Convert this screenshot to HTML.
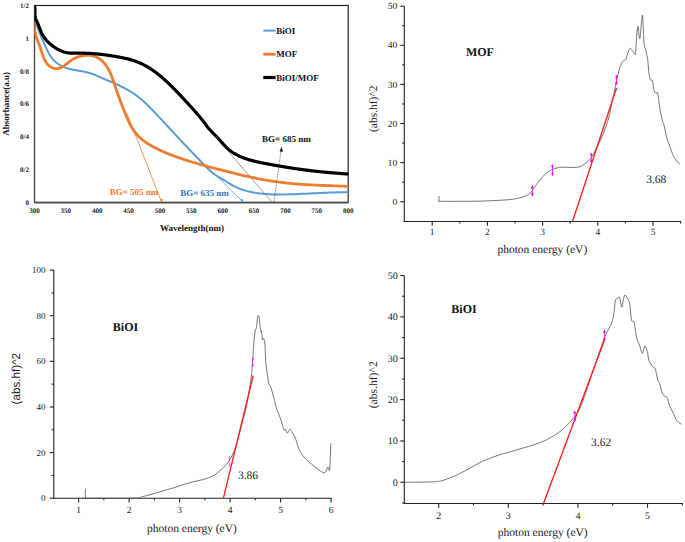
<!DOCTYPE html>
<html><head><meta charset="utf-8"><title>Absorbance and Tauc plots</title>
<style>
html,body{margin:0;padding:0;background:#fff;}
body{width:685px;height:542px;overflow:hidden;font-family:"Liberation Serif", serif;}
svg{display:block;text-rendering:geometricPrecision;}
</style></head>
<body>
<svg width="685" height="542" viewBox="0 0 685 542">
<rect width="685" height="542" fill="#fff"/>
<rect x="34.5" y="5.5" width="313.7" height="196.8" fill="none" stroke="#222" stroke-width="1.2"/>
<line x1="34.5" y1="202.9" x2="348.2" y2="202.9" stroke="#555" stroke-width="1.4"/>
<line x1="34.5" y1="5.5" x2="34.5" y2="202.3" stroke="#444" stroke-width="1.1"/>
<line x1="127" y1="113.5" x2="161.6" y2="202" stroke="#ED7D31" stroke-width="0.8"/>
<line x1="190" y1="150" x2="243.2" y2="202" stroke="#5B9BD5" stroke-width="0.8"/>
<line x1="192" y1="109" x2="271.8" y2="202" stroke="#8a8a8a" stroke-width="0.8"/>
<path d="M161.6 202.3 l-1.6 -3.2 l3 0.2z" fill="#ED7D31"/>
<path d="M243.2 202.3 l-2.7 -2.2 l2.1 -1.5z" fill="#5B9BD5"/>
<defs><clipPath id="c1"><rect x="34.5" y="5" width="314" height="198"/></clipPath></defs><g clip-path="url(#c1)">
<path d="M34.85 8.92 L34.82 9.97 L34.82 11 L34.84 12.03 L34.88 13.05 L34.94 14.06 L35.02 15.06 L35.12 16.06 L35.24 17.05 L35.38 18.03 L35.53 19 L35.71 19.97 L35.9 20.93 L36.1 21.89 L36.32 22.84 L36.56 23.78 L36.81 24.72 L37.07 25.66 L37.35 26.59 L37.64 27.52 L37.94 28.45 L38.26 29.37 L38.58 30.29 L38.92 31.21 L39.26 32.12 L39.62 33.04 L39.98 33.95 L40.35 34.86 L40.72 35.77 L41.11 36.68 L41.5 37.59 L41.89 38.51 L42.3 39.42 L42.7 40.33 L43.11 41.25 L43.52 42.16 L43.94 43.08 L44.35 44 L44.77 44.92 L45.19 45.85 L45.62 46.78 L46.04 47.7 L46.48 48.63 L46.91 49.55 L47.36 50.46 L47.82 51.37 L48.29 52.26 L48.77 53.15 L49.27 54.02 L49.78 54.88 L50.3 55.72 L50.85 56.55 L51.41 57.35 L52 58.13 L52.61 58.89 L53.24 59.63 L53.9 60.34 L54.58 61.02 L55.29 61.68 L56.02 62.3 L56.78 62.9 L57.56 63.48 L58.36 64.02 L59.17 64.55 L60.01 65.04 L60.86 65.52 L61.73 65.96 L62.61 66.39 L63.51 66.79 L64.42 67.17 L65.34 67.53 L66.27 67.86 L67.21 68.17 L68.15 68.46 L69.1 68.73 L70.06 68.98 L71.03 69.22 L71.99 69.44 L72.97 69.65 L73.94 69.85 L74.92 70.04 L75.9 70.22 L76.89 70.39 L77.87 70.57 L78.86 70.74 L79.84 70.91 L80.82 71.08 L81.81 71.25 L82.79 71.44 L83.77 71.62 L84.74 71.82 L85.71 72.03 L86.68 72.25 L87.64 72.49 L88.59 72.74 L89.54 73.01 L90.48 73.31 L91.42 73.62 L92.35 73.94 L93.27 74.29 L94.19 74.64 L95.11 75.01 L96.02 75.39 L96.93 75.78 L97.84 76.18 L98.74 76.58 L99.65 76.98 L100.55 77.38 L101.46 77.79 L102.36 78.19 L103.27 78.59 L104.18 78.98 L105.09 79.36 L106.01 79.75 L106.92 80.13 L107.84 80.5 L108.75 80.88 L109.67 81.26 L110.58 81.63 L111.5 82.02 L112.41 82.4 L113.33 82.79 L114.24 83.18 L115.15 83.58 L116.06 83.99 L116.96 84.4 L117.87 84.81 L118.77 85.24 L119.67 85.67 L120.56 86.1 L121.45 86.54 L122.34 86.99 L123.23 87.44 L124.11 87.9 L124.98 88.37 L125.86 88.85 L126.72 89.33 L127.59 89.82 L128.45 90.32 L129.3 90.82 L130.15 91.34 L130.99 91.86 L131.83 92.39 L132.66 92.92 L133.48 93.47 L134.3 94.02 L135.11 94.59 L135.92 95.16 L136.72 95.74 L137.51 96.33 L138.29 96.93 L139.07 97.54 L139.84 98.16 L140.6 98.78 L141.36 99.42 L142.11 100.06 L142.85 100.71 L143.59 101.37 L144.32 102.03 L145.05 102.7 L145.77 103.38 L146.49 104.06 L147.2 104.75 L147.91 105.44 L148.62 106.13 L149.32 106.83 L150.02 107.54 L150.72 108.25 L151.41 108.96 L152.1 109.67 L152.79 110.38 L153.48 111.1 L154.16 111.82 L154.85 112.54 L155.53 113.26 L156.21 113.98 L156.89 114.7 L157.57 115.43 L158.25 116.15 L158.93 116.87 L159.61 117.6 L160.28 118.32 L160.96 119.05 L161.64 119.77 L162.31 120.5 L162.98 121.22 L163.66 121.95 L164.33 122.68 L165.01 123.4 L165.68 124.13 L166.35 124.86 L167.02 125.59 L167.7 126.31 L168.37 127.04 L169.04 127.77 L169.71 128.5 L170.38 129.23 L171.05 129.95 L171.73 130.68 L172.4 131.41 L173.07 132.14 L173.74 132.87 L174.41 133.59 L175.09 134.32 L175.76 135.05 L176.43 135.77 L177.11 136.5 L177.78 137.23 L178.45 137.95 L179.13 138.68 L179.8 139.4 L180.48 140.13 L181.16 140.85 L181.83 141.57 L182.51 142.3 L183.19 143.02 L183.87 143.74 L184.55 144.46 L185.23 145.18 L185.91 145.9 L186.6 146.62 L187.28 147.34 L187.96 148.06 L188.65 148.78 L189.33 149.5 L190.02 150.22 L190.7 150.93 L191.39 151.65 L192.08 152.37 L192.76 153.08 L193.45 153.8 L194.14 154.52 L194.83 155.23 L195.51 155.95 L196.2 156.66 L196.89 157.38 L197.58 158.1 L198.27 158.81 L198.95 159.53 L199.64 160.24 L200.33 160.96 L201.02 161.68 L201.7 162.39 L202.39 163.11 L203.08 163.83 L203.76 164.55 L204.45 165.26 L205.14 165.98 L205.83 166.69 L206.53 167.39 L207.23 168.09 L207.94 168.78 L208.65 169.46 L209.38 170.12 L210.11 170.78 L210.85 171.42 L211.61 172.05 L212.38 172.66 L213.16 173.26 L213.95 173.84 L214.75 174.41 L215.56 174.97 L216.38 175.52 L217.21 176.05 L218.05 176.58 L218.89 177.11 L219.73 177.63 L220.58 178.14 L221.43 178.66 L222.29 179.17 L223.14 179.68 L224 180.2 L224.85 180.72 L225.7 181.24 L226.55 181.77 L227.4 182.29 L228.25 182.82 L229.1 183.34 L229.95 183.85 L230.81 184.36 L231.67 184.86 L232.53 185.35 L233.4 185.82 L234.28 186.28 L235.16 186.72 L236.05 187.15 L236.95 187.56 L237.85 187.95 L238.76 188.33 L239.68 188.7 L240.6 189.05 L241.52 189.38 L242.45 189.71 L243.39 190.01 L244.33 190.31 L245.27 190.59 L246.22 190.86 L247.18 191.11 L248.13 191.36 L249.09 191.59 L250.06 191.81 L251.02 192.02 L251.99 192.22 L252.96 192.41 L253.94 192.59 L254.92 192.75 L255.89 192.91 L256.87 193.06 L257.86 193.2 L258.84 193.33 L259.82 193.45 L260.81 193.57 L261.79 193.67 L262.78 193.77 L263.77 193.86 L264.75 193.95 L265.74 194.02 L266.73 194.09 L267.72 194.15 L268.71 194.21 L269.7 194.26 L270.69 194.3 L271.68 194.34 L272.68 194.38 L273.67 194.4 L274.66 194.43 L275.65 194.44 L276.65 194.46 L277.64 194.46 L278.63 194.47 L279.63 194.47 L280.62 194.47 L281.61 194.46 L282.61 194.45 L283.6 194.43 L284.59 194.42 L285.59 194.4 L286.58 194.38 L287.57 194.35 L288.57 194.33 L289.56 194.3 L290.55 194.27 L291.55 194.24 L292.54 194.21 L293.53 194.17 L294.52 194.14 L295.51 194.1 L296.5 194.06 L297.49 194.03 L298.48 193.99 L299.47 193.95 L300.46 193.91 L301.45 193.86 L302.44 193.82 L303.43 193.78 L304.42 193.73 L305.41 193.69 L306.4 193.64 L307.39 193.6 L308.38 193.55 L309.37 193.51 L310.36 193.46 L311.35 193.41 L312.34 193.37 L313.33 193.32 L314.32 193.27 L315.3 193.23 L316.29 193.18 L317.28 193.13 L318.27 193.09 L319.26 193.04 L320.25 192.99 L321.24 192.95 L322.23 192.9 L323.22 192.86 L324.21 192.82 L325.19 192.77 L326.18 192.73 L327.17 192.69 L328.16 192.65 L329.15 192.61 L330.14 192.57 L331.13 192.53 L332.12 192.5 L333.12 192.46 L334.11 192.43 L335.1 192.39 L336.09 192.36 L337.08 192.33 L338.07 192.3 L339.06 192.28 L340.06 192.25 L341.05 192.23 L342.04 192.21 L343.03 192.18 L344.03 192.17 L345.02 192.15 L346.02 192.13 L347.01 192.12 L348.01 192.11" fill="none" stroke="#5B9BD5" stroke-width="2" stroke-linejoin="round" stroke-linecap="round"/>
<path d="M34.77 22.92 L34.67 24.07 L34.61 25.18 L34.58 26.27 L34.6 27.34 L34.66 28.39 L34.75 29.42 L34.87 30.43 L35.02 31.42 L35.2 32.4 L35.41 33.36 L35.64 34.32 L35.89 35.26 L36.16 36.2 L36.45 37.13 L36.76 38.06 L37.08 38.98 L37.41 39.91 L37.75 40.84 L38.1 41.77 L38.45 42.7 L38.8 43.65 L39.15 44.6 L39.51 45.56 L39.86 46.53 L40.2 47.52 L40.53 48.52 L40.87 49.53 L41.2 50.56 L41.53 51.58 L41.86 52.61 L42.2 53.63 L42.56 54.65 L42.92 55.66 L43.3 56.66 L43.7 57.65 L44.12 58.61 L44.56 59.55 L45.03 60.47 L45.53 61.35 L46.06 62.21 L46.63 63.02 L47.24 63.8 L47.88 64.54 L48.57 65.22 L49.31 65.86 L50.1 66.45 L50.93 66.97 L51.8 67.44 L52.7 67.83 L53.63 68.15 L54.57 68.39 L55.54 68.55 L56.51 68.61 L57.48 68.58 L58.45 68.45 L59.41 68.22 L60.35 67.89 L61.28 67.49 L62.2 67.02 L63.09 66.49 L63.96 65.93 L64.82 65.32 L65.66 64.69 L66.48 64.04 L67.3 63.38 L68.11 62.72 L68.93 62.06 L69.74 61.41 L70.56 60.79 L71.39 60.19 L72.23 59.63 L73.09 59.11 L73.97 58.64 L74.86 58.2 L75.78 57.79 L76.71 57.42 L77.67 57.07 L78.65 56.75 L79.64 56.46 L80.65 56.19 L81.68 55.96 L82.71 55.76 L83.75 55.6 L84.79 55.47 L85.84 55.37 L86.89 55.32 L87.93 55.3 L88.97 55.33 L90 55.4 L91.02 55.51 L92.02 55.67 L93.01 55.88 L93.99 56.14 L94.94 56.44 L95.87 56.8 L96.77 57.21 L97.65 57.67 L98.51 58.17 L99.34 58.71 L100.15 59.3 L100.94 59.92 L101.7 60.58 L102.44 61.27 L103.15 61.99 L103.85 62.74 L104.51 63.52 L105.16 64.32 L105.78 65.14 L106.37 65.98 L106.95 66.84 L107.5 67.71 L108.02 68.59 L108.53 69.48 L109.01 70.39 L109.48 71.3 L109.93 72.23 L110.36 73.16 L110.77 74.1 L111.17 75.05 L111.56 76 L111.94 76.96 L112.3 77.92 L112.66 78.89 L113.01 79.86 L113.35 80.83 L113.68 81.8 L114.01 82.78 L114.34 83.75 L114.66 84.73 L114.99 85.7 L115.31 86.67 L115.64 87.63 L115.96 88.6 L116.29 89.56 L116.62 90.52 L116.95 91.48 L117.29 92.43 L117.62 93.38 L117.96 94.33 L118.3 95.28 L118.64 96.23 L118.98 97.18 L119.32 98.13 L119.67 99.07 L120.02 100.02 L120.37 100.97 L120.72 101.91 L121.08 102.86 L121.44 103.81 L121.79 104.76 L122.16 105.71 L122.52 106.66 L122.89 107.61 L123.26 108.56 L123.63 109.52 L124.01 110.48 L124.38 111.44 L124.76 112.4 L125.15 113.36 L125.54 114.32 L125.93 115.28 L126.33 116.24 L126.74 117.2 L127.16 118.16 L127.58 119.11 L128.01 120.05 L128.44 121 L128.89 121.93 L129.35 122.86 L129.81 123.78 L130.29 124.69 L130.78 125.6 L131.28 126.5 L131.8 127.38 L132.33 128.25 L132.87 129.12 L133.42 129.97 L134 130.8 L134.58 131.63 L135.19 132.44 L135.8 133.23 L136.44 134.01 L137.1 134.77 L137.77 135.51 L138.46 136.24 L139.17 136.95 L139.9 137.64 L140.64 138.31 L141.4 138.97 L142.17 139.62 L142.96 140.25 L143.76 140.86 L144.58 141.46 L145.4 142.05 L146.24 142.63 L147.09 143.19 L147.95 143.74 L148.82 144.28 L149.7 144.81 L150.58 145.33 L151.47 145.84 L152.37 146.34 L153.28 146.83 L154.19 147.31 L155.11 147.78 L156.03 148.25 L156.95 148.7 L157.88 149.16 L158.8 149.6 L159.73 150.04 L160.66 150.47 L161.6 150.9 L162.53 151.32 L163.47 151.74 L164.41 152.15 L165.35 152.55 L166.29 152.95 L167.24 153.34 L168.18 153.73 L169.13 154.12 L170.08 154.49 L171.03 154.87 L171.98 155.24 L172.93 155.6 L173.89 155.96 L174.85 156.32 L175.8 156.67 L176.76 157.01 L177.72 157.36 L178.68 157.69 L179.65 158.03 L180.61 158.36 L181.58 158.69 L182.54 159.01 L183.51 159.33 L184.48 159.64 L185.45 159.96 L186.42 160.27 L187.4 160.57 L188.37 160.88 L189.34 161.18 L190.32 161.48 L191.29 161.77 L192.27 162.06 L193.25 162.36 L194.23 162.64 L195.2 162.93 L196.18 163.21 L197.16 163.49 L198.15 163.77 L199.13 164.05 L200.11 164.33 L201.09 164.6 L202.08 164.88 L203.06 165.15 L204.04 165.42 L205.03 165.69 L206.01 165.96 L207 166.22 L207.98 166.49 L208.97 166.76 L209.96 167.02 L210.94 167.28 L211.93 167.55 L212.92 167.81 L213.9 168.08 L214.89 168.34 L215.88 168.6 L216.87 168.86 L217.85 169.12 L218.84 169.38 L219.83 169.64 L220.82 169.9 L221.81 170.16 L222.79 170.42 L223.78 170.68 L224.77 170.93 L225.76 171.19 L226.75 171.44 L227.74 171.69 L228.73 171.95 L229.72 172.2 L230.71 172.45 L231.7 172.69 L232.69 172.94 L233.68 173.19 L234.68 173.43 L235.67 173.67 L236.66 173.91 L237.65 174.15 L238.65 174.39 L239.64 174.63 L240.63 174.86 L241.63 175.1 L242.62 175.33 L243.62 175.56 L244.61 175.78 L245.61 176.01 L246.6 176.23 L247.6 176.46 L248.59 176.68 L249.59 176.89 L250.59 177.11 L251.59 177.32 L252.58 177.53 L253.58 177.74 L254.58 177.95 L255.58 178.15 L256.58 178.36 L257.58 178.55 L258.58 178.75 L259.58 178.95 L260.58 179.14 L261.59 179.33 L262.59 179.51 L263.59 179.7 L264.59 179.88 L265.6 180.05 L266.6 180.23 L267.61 180.4 L268.61 180.57 L269.62 180.74 L270.63 180.9 L271.63 181.06 L272.64 181.22 L273.65 181.37 L274.66 181.52 L275.67 181.67 L276.68 181.81 L277.69 181.95 L278.7 182.09 L279.71 182.22 L280.72 182.35 L281.73 182.47 L282.75 182.6 L283.76 182.72 L284.77 182.83 L285.79 182.94 L286.81 183.05 L287.82 183.16 L288.84 183.26 L289.85 183.36 L290.87 183.46 L291.89 183.55 L292.91 183.65 L293.92 183.74 L294.94 183.82 L295.96 183.91 L296.98 183.99 L298 184.07 L299.02 184.14 L300.04 184.22 L301.06 184.29 L302.08 184.36 L303.1 184.43 L304.12 184.49 L305.14 184.56 L306.17 184.62 L307.19 184.68 L308.21 184.74 L309.23 184.79 L310.25 184.85 L311.27 184.9 L312.3 184.95 L313.32 185 L314.34 185.05 L315.36 185.1 L316.38 185.15 L317.41 185.19 L318.43 185.24 L319.45 185.28 L320.47 185.32 L321.49 185.37 L322.52 185.41 L323.54 185.45 L324.56 185.49 L325.58 185.52 L326.6 185.56 L327.62 185.6 L328.64 185.64 L329.66 185.68 L330.69 185.71 L331.71 185.75 L332.73 185.79 L333.74 185.82 L334.76 185.86 L335.78 185.9 L336.8 185.93 L337.82 185.97 L338.84 186.01 L339.85 186.04 L340.87 186.08 L341.89 186.12 L342.9 186.16 L343.92 186.2 L344.94 186.24 L345.95 186.28 L346.96 186.32 L347.98 186.37" fill="none" stroke="#ED7D31" stroke-width="2.8" stroke-linejoin="round" stroke-linecap="round"/>
<path d="M34.81 6.99 L34.88 7.92 L34.91 8.88 L34.91 9.85 L34.9 10.83 L34.89 11.82 L34.89 12.81 L34.9 13.8 L34.94 14.77 L35.03 15.73 L35.17 16.67 L35.37 17.58 L35.62 18.48 L35.92 19.35 L36.26 20.21 L36.65 21.06 L37.06 21.9 L37.47 22.76 L37.85 23.63 L38.22 24.52 L38.58 25.42 L38.92 26.33 L39.26 27.25 L39.6 28.17 L39.94 29.09 L40.29 30.01 L40.65 30.91 L41.03 31.8 L41.42 32.68 L41.84 33.54 L42.28 34.38 L42.74 35.2 L43.23 36 L43.74 36.79 L44.27 37.55 L44.81 38.31 L45.39 39.04 L45.98 39.76 L46.59 40.46 L47.22 41.15 L47.87 41.82 L48.54 42.48 L49.23 43.12 L49.93 43.75 L50.66 44.36 L51.4 44.96 L52.16 45.55 L52.93 46.13 L53.73 46.69 L54.54 47.25 L55.36 47.78 L56.2 48.31 L57.05 48.81 L57.91 49.29 L58.78 49.76 L59.67 50.2 L60.56 50.61 L61.46 51 L62.37 51.36 L63.28 51.69 L64.2 51.99 L65.12 52.25 L66.04 52.48 L66.96 52.67 L67.89 52.82 L68.82 52.94 L69.74 53.03 L70.67 53.09 L71.6 53.13 L72.54 53.15 L73.47 53.16 L74.41 53.15 L75.35 53.14 L76.29 53.13 L77.24 53.12 L78.19 53.12 L79.14 53.11 L80.1 53.12 L81.06 53.12 L82.02 53.14 L82.98 53.15 L83.94 53.18 L84.91 53.2 L85.87 53.24 L86.84 53.27 L87.8 53.32 L88.77 53.36 L89.73 53.42 L90.69 53.47 L91.65 53.54 L92.6 53.6 L93.56 53.68 L94.52 53.75 L95.47 53.84 L96.42 53.92 L97.37 54.02 L98.33 54.11 L99.28 54.21 L100.22 54.31 L101.17 54.42 L102.12 54.53 L103.07 54.65 L104.02 54.77 L104.96 54.89 L105.91 55.02 L106.86 55.15 L107.81 55.28 L108.75 55.41 L109.7 55.55 L110.65 55.69 L111.6 55.84 L112.55 55.98 L113.49 56.13 L114.44 56.28 L115.39 56.43 L116.34 56.59 L117.29 56.75 L118.24 56.92 L119.19 57.09 L120.14 57.27 L121.09 57.45 L122.03 57.63 L122.98 57.83 L123.92 58.02 L124.86 58.23 L125.8 58.44 L126.73 58.67 L127.67 58.9 L128.6 59.13 L129.52 59.38 L130.45 59.64 L131.37 59.9 L132.29 60.18 L133.2 60.46 L134.11 60.76 L135.02 61.07 L135.92 61.39 L136.81 61.72 L137.7 62.07 L138.59 62.42 L139.47 62.79 L140.35 63.18 L141.22 63.57 L142.08 63.98 L142.94 64.41 L143.79 64.84 L144.64 65.29 L145.49 65.74 L146.32 66.21 L147.15 66.69 L147.98 67.18 L148.8 67.68 L149.61 68.19 L150.42 68.7 L151.22 69.23 L152.02 69.76 L152.81 70.31 L153.6 70.85 L154.38 71.41 L155.16 71.97 L155.92 72.54 L156.69 73.12 L157.45 73.7 L158.2 74.29 L158.95 74.89 L159.7 75.49 L160.44 76.1 L161.17 76.71 L161.9 77.33 L162.63 77.95 L163.35 78.58 L164.07 79.21 L164.78 79.85 L165.49 80.5 L166.2 81.14 L166.9 81.8 L167.6 82.45 L168.3 83.11 L168.99 83.77 L169.68 84.44 L170.37 85.11 L171.05 85.79 L171.74 86.46 L172.42 87.14 L173.09 87.82 L173.77 88.51 L174.44 89.2 L175.11 89.89 L175.78 90.58 L176.44 91.27 L177.11 91.97 L177.77 92.66 L178.43 93.36 L179.09 94.06 L179.75 94.76 L180.4 95.46 L181.06 96.17 L181.71 96.87 L182.37 97.57 L183.02 98.28 L183.68 98.98 L184.33 99.68 L184.98 100.39 L185.63 101.09 L186.28 101.79 L186.93 102.49 L187.59 103.2 L188.24 103.9 L188.88 104.6 L189.53 105.31 L190.18 106.01 L190.82 106.72 L191.47 107.42 L192.11 108.13 L192.75 108.84 L193.39 109.55 L194.03 110.26 L194.66 110.98 L195.29 111.69 L195.92 112.41 L196.55 113.14 L197.18 113.86 L197.8 114.59 L198.42 115.32 L199.03 116.05 L199.64 116.79 L200.25 117.53 L200.86 118.27 L201.46 119.02 L202.06 119.77 L202.65 120.52 L203.24 121.28 L203.83 122.05 L204.41 122.82 L204.99 123.58 L205.58 124.35 L206.16 125.12 L206.74 125.89 L207.34 126.65 L207.93 127.4 L208.54 128.15 L209.15 128.89 L209.78 129.61 L210.41 130.33 L211.06 131.03 L211.72 131.73 L212.38 132.41 L213.05 133.09 L213.73 133.77 L214.4 134.45 L215.08 135.13 L215.75 135.81 L216.41 136.5 L217.07 137.19 L217.72 137.9 L218.37 138.61 L219.01 139.32 L219.64 140.04 L220.28 140.76 L220.91 141.48 L221.55 142.2 L222.18 142.92 L222.82 143.63 L223.47 144.34 L224.11 145.04 L224.77 145.74 L225.43 146.42 L226.11 147.1 L226.79 147.76 L227.49 148.41 L228.2 149.04 L228.92 149.66 L229.66 150.26 L230.41 150.84 L231.18 151.41 L231.96 151.96 L232.76 152.49 L233.57 153.01 L234.39 153.51 L235.22 153.99 L236.06 154.46 L236.91 154.92 L237.77 155.36 L238.63 155.78 L239.51 156.2 L240.39 156.59 L241.28 156.98 L242.18 157.35 L243.08 157.71 L243.98 158.05 L244.89 158.39 L245.8 158.71 L246.72 159.02 L247.63 159.32 L248.55 159.6 L249.47 159.88 L250.39 160.15 L251.31 160.4 L252.24 160.65 L253.16 160.89 L254.09 161.12 L255.02 161.35 L255.95 161.57 L256.88 161.78 L257.81 161.98 L258.74 162.18 L259.67 162.38 L260.61 162.57 L261.54 162.76 L262.48 162.95 L263.41 163.13 L264.35 163.31 L265.29 163.49 L266.23 163.67 L267.17 163.85 L268.11 164.02 L269.05 164.2 L269.99 164.37 L270.93 164.55 L271.87 164.72 L272.81 164.89 L273.75 165.06 L274.7 165.23 L275.64 165.4 L276.59 165.57 L277.53 165.73 L278.48 165.9 L279.42 166.06 L280.37 166.22 L281.31 166.38 L282.26 166.54 L283.21 166.7 L284.15 166.86 L285.1 167.01 L286.05 167.17 L287 167.32 L287.95 167.47 L288.9 167.62 L289.84 167.77 L290.79 167.92 L291.74 168.07 L292.69 168.21 L293.64 168.36 L294.59 168.5 L295.54 168.64 L296.5 168.78 L297.45 168.91 L298.4 169.05 L299.35 169.19 L300.3 169.32 L301.25 169.45 L302.2 169.58 L303.15 169.71 L304.11 169.83 L305.06 169.96 L306.01 170.08 L306.96 170.2 L307.91 170.32 L308.86 170.44 L309.82 170.56 L310.77 170.67 L311.72 170.79 L312.67 170.9 L313.62 171.01 L314.58 171.11 L315.53 171.22 L316.48 171.33 L317.43 171.43 L318.38 171.53 L319.34 171.63 L320.29 171.73 L321.24 171.82 L322.19 171.92 L323.14 172.01 L324.1 172.11 L325.05 172.2 L326 172.29 L326.96 172.37 L327.91 172.46 L328.86 172.55 L329.82 172.63 L330.77 172.71 L331.72 172.79 L332.68 172.87 L333.63 172.95 L334.59 173.03 L335.55 173.11 L336.5 173.18 L337.46 173.25 L338.41 173.33 L339.37 173.4 L340.33 173.47 L341.29 173.54 L342.24 173.61 L343.2 173.67 L344.16 173.74 L345.12 173.8 L346.08 173.87 L347.04 173.93 L348 173.99" fill="none" stroke="#000" stroke-width="3.2" stroke-linejoin="round" stroke-linecap="round"/>
</g>
<line x1="273.8" y1="202" x2="281" y2="150.5" stroke="#333" stroke-width="0.6" stroke-dasharray="1.6 1.1"/>
<path d="M281.5 146.8 l-1.9 4.6 l3.4 0.4z" fill="#111"/>
<text x="29" y="204.7" text-anchor="end" font-family="&quot;Liberation Serif&quot;, serif" font-weight="bold" font-size="7" fill="#222">0</text>
<text x="29" y="171.9" text-anchor="end" font-family="&quot;Liberation Serif&quot;, serif" font-weight="bold" font-size="7" fill="#222">0/2</text>
<text x="29" y="139.1" text-anchor="end" font-family="&quot;Liberation Serif&quot;, serif" font-weight="bold" font-size="7" fill="#222">0/4</text>
<text x="29" y="106.3" text-anchor="end" font-family="&quot;Liberation Serif&quot;, serif" font-weight="bold" font-size="7" fill="#222">0/6</text>
<text x="29" y="73.5" text-anchor="end" font-family="&quot;Liberation Serif&quot;, serif" font-weight="bold" font-size="7" fill="#222">0/8</text>
<text x="29" y="40.7" text-anchor="end" font-family="&quot;Liberation Serif&quot;, serif" font-weight="bold" font-size="7" fill="#222">1</text>
<text x="29" y="7.9" text-anchor="end" font-family="&quot;Liberation Serif&quot;, serif" font-weight="bold" font-size="7" fill="#222">1/2</text>
<text x="34.5" y="213" text-anchor="middle" font-family="&quot;Liberation Serif&quot;, serif" font-weight="bold" font-size="7" fill="#222">300</text>
<text x="65.87" y="213" text-anchor="middle" font-family="&quot;Liberation Serif&quot;, serif" font-weight="bold" font-size="7" fill="#222">350</text>
<text x="97.24" y="213" text-anchor="middle" font-family="&quot;Liberation Serif&quot;, serif" font-weight="bold" font-size="7" fill="#222">400</text>
<text x="128.61" y="213" text-anchor="middle" font-family="&quot;Liberation Serif&quot;, serif" font-weight="bold" font-size="7" fill="#222">450</text>
<text x="159.98" y="213" text-anchor="middle" font-family="&quot;Liberation Serif&quot;, serif" font-weight="bold" font-size="7" fill="#222">500</text>
<text x="191.35" y="213" text-anchor="middle" font-family="&quot;Liberation Serif&quot;, serif" font-weight="bold" font-size="7" fill="#222">550</text>
<text x="222.72" y="213" text-anchor="middle" font-family="&quot;Liberation Serif&quot;, serif" font-weight="bold" font-size="7" fill="#222">600</text>
<text x="254.09" y="213" text-anchor="middle" font-family="&quot;Liberation Serif&quot;, serif" font-weight="bold" font-size="7" fill="#222">650</text>
<text x="285.46" y="213" text-anchor="middle" font-family="&quot;Liberation Serif&quot;, serif" font-weight="bold" font-size="7" fill="#222">700</text>
<text x="316.83" y="213" text-anchor="middle" font-family="&quot;Liberation Serif&quot;, serif" font-weight="bold" font-size="7" fill="#222">750</text>
<text x="348.2" y="213" text-anchor="middle" font-family="&quot;Liberation Serif&quot;, serif" font-weight="bold" font-size="7" fill="#222">800</text>
<text x="160" y="231" font-family="&quot;Liberation Serif&quot;, serif" font-weight="bold" font-size="9" fill="#111">Wavelength(nm)</text>
<text transform="translate(8.6 103.8) rotate(-90)" text-anchor="middle" font-family="&quot;Liberation Serif&quot;, serif" font-weight="bold" font-size="9" fill="#111">Absorbance(a.u)</text>
<line x1="263.3" y1="30.6" x2="275.6" y2="30.6" stroke="#5B9BD5" stroke-width="2"/>
<line x1="263.3" y1="54.2" x2="275.6" y2="54.2" stroke="#ED7D31" stroke-width="2.8"/>
<line x1="263.3" y1="77.5" x2="275.6" y2="77.5" stroke="#000" stroke-width="3.2"/>
<text x="276.2" y="33.9" font-family="&quot;Liberation Serif&quot;, serif" font-weight="bold" font-size="9" fill="#111">BiOI</text>
<text x="276.2" y="57.4" font-family="&quot;Liberation Serif&quot;, serif" font-weight="bold" font-size="9" fill="#111">MOF</text>
<text x="276.2" y="80.8" font-family="&quot;Liberation Serif&quot;, serif" font-weight="bold" font-size="9" fill="#111">BiOI/MOF</text>
<text x="109.7" y="195" font-family="&quot;Liberation Serif&quot;, serif" font-weight="bold" font-size="9" fill="#ED7D31">BG= 505 nm</text>
<text x="180.2" y="196.4" font-family="&quot;Liberation Serif&quot;, serif" font-weight="bold" font-size="9" fill="#2E75B6">BG= 635 nm</text>
<text x="262.1" y="141.9" font-family="&quot;Liberation Serif&quot;, serif" font-weight="bold" font-size="9" fill="#111">BG= 685 nm</text>
<line x1="404.3" y1="6.2" x2="404.3" y2="222" stroke="#222" stroke-width="1.1"/>
<line x1="403.8" y1="221.5" x2="681.1" y2="221.5" stroke="#222" stroke-width="1.1"/>
<line x1="400.3" y1="6.2" x2="404.3" y2="6.2" stroke="#222" stroke-width="1.1"/>
<text x="397.2" y="9.33" text-anchor="end" font-family="&quot;Liberation Serif&quot;, serif" font-size="9.5" fill="#222">50</text>
<line x1="400.3" y1="45.3" x2="404.3" y2="45.3" stroke="#222" stroke-width="1.1"/>
<text x="397.2" y="48.43" text-anchor="end" font-family="&quot;Liberation Serif&quot;, serif" font-size="9.5" fill="#222">40</text>
<line x1="400.3" y1="84.4" x2="404.3" y2="84.4" stroke="#222" stroke-width="1.1"/>
<text x="397.2" y="87.53" text-anchor="end" font-family="&quot;Liberation Serif&quot;, serif" font-size="9.5" fill="#222">30</text>
<line x1="400.3" y1="123.5" x2="404.3" y2="123.5" stroke="#222" stroke-width="1.1"/>
<text x="397.2" y="126.63" text-anchor="end" font-family="&quot;Liberation Serif&quot;, serif" font-size="9.5" fill="#222">20</text>
<line x1="400.3" y1="162.6" x2="404.3" y2="162.6" stroke="#222" stroke-width="1.1"/>
<text x="397.2" y="165.73" text-anchor="end" font-family="&quot;Liberation Serif&quot;, serif" font-size="9.5" fill="#222">10</text>
<line x1="400.3" y1="201.7" x2="404.3" y2="201.7" stroke="#222" stroke-width="1.1"/>
<text x="397.2" y="204.83" text-anchor="end" font-family="&quot;Liberation Serif&quot;, serif" font-size="9.5" fill="#222">0</text>
<line x1="402.1" y1="25.75" x2="404.3" y2="25.75" stroke="#222" stroke-width="1.1"/>
<line x1="402.1" y1="64.85" x2="404.3" y2="64.85" stroke="#222" stroke-width="1.1"/>
<line x1="402.1" y1="103.95" x2="404.3" y2="103.95" stroke="#222" stroke-width="1.1"/>
<line x1="402.1" y1="143.05" x2="404.3" y2="143.05" stroke="#222" stroke-width="1.1"/>
<line x1="402.1" y1="182.15" x2="404.3" y2="182.15" stroke="#222" stroke-width="1.1"/>
<line x1="432.2" y1="221.5" x2="432.2" y2="225.7" stroke="#222" stroke-width="1.1"/>
<text x="432.2" y="235.2" text-anchor="middle" font-family="&quot;Liberation Serif&quot;, serif" font-size="9.5" fill="#222">1</text>
<line x1="487.4" y1="221.5" x2="487.4" y2="225.7" stroke="#222" stroke-width="1.1"/>
<text x="487.4" y="235.2" text-anchor="middle" font-family="&quot;Liberation Serif&quot;, serif" font-size="9.5" fill="#222">2</text>
<line x1="542.6" y1="221.5" x2="542.6" y2="225.7" stroke="#222" stroke-width="1.1"/>
<text x="542.6" y="235.2" text-anchor="middle" font-family="&quot;Liberation Serif&quot;, serif" font-size="9.5" fill="#222">3</text>
<line x1="597.8" y1="221.5" x2="597.8" y2="225.7" stroke="#222" stroke-width="1.1"/>
<text x="597.8" y="235.2" text-anchor="middle" font-family="&quot;Liberation Serif&quot;, serif" font-size="9.5" fill="#222">4</text>
<line x1="653" y1="221.5" x2="653" y2="225.7" stroke="#222" stroke-width="1.1"/>
<text x="653" y="235.2" text-anchor="middle" font-family="&quot;Liberation Serif&quot;, serif" font-size="9.5" fill="#222">5</text>
<line x1="459.8" y1="221.5" x2="459.8" y2="223.5" stroke="#222" stroke-width="1.1"/>
<line x1="515" y1="221.5" x2="515" y2="223.5" stroke="#222" stroke-width="1.1"/>
<line x1="570.2" y1="221.5" x2="570.2" y2="223.5" stroke="#222" stroke-width="1.1"/>
<line x1="625.4" y1="221.5" x2="625.4" y2="223.5" stroke="#222" stroke-width="1.1"/>
<line x1="680.6" y1="221.5" x2="680.6" y2="223.5" stroke="#222" stroke-width="1.1"/>
<path d="M439.1 196 C439.1 196.78 438.72 199.82 439.1 200.7 C439.48 201.58 436.58 201.2 441.4 201.3 C446.22 201.4 460.42 201.37 468 201.3 C475.58 201.23 480.58 201.13 486.9 200.9 C493.22 200.67 500.83 200.3 505.9 199.9 C510.97 199.5 513.82 199.27 517.3 198.5 C520.78 197.73 524.3 196.62 526.8 195.3 C529.3 193.98 530.67 192.45 532.3 190.6 C533.93 188.75 534.95 186.43 536.6 184.2 C538.25 181.97 540.35 179.2 542.2 177.2 C544.05 175.2 545.98 173.5 547.7 172.2 C549.42 170.9 550.97 170.1 552.5 169.4 C554.03 168.7 555.38 168.37 556.9 168 C558.42 167.63 558.13 167.33 561.6 167.2 C565.07 167.07 573.78 167.82 577.7 167.2 C581.62 166.58 582.88 164.98 585.1 163.5 C587.32 162.02 589.28 160.52 591 158.3 C592.72 156.08 593.92 153.03 595.4 150.2 C596.88 147.37 598.42 144.5 599.9 141.3 C601.38 138.1 602.83 134.93 604.3 131 C605.77 127.07 607.35 122.87 608.7 117.7 C610.05 112.53 611.42 104.62 612.4 100 C613.38 95.38 613.92 93.23 614.6 90 C615.28 86.77 615.88 83.38 616.5 80.6 C617.12 77.82 617.7 75.6 618.3 73.3 C618.9 71 619.33 68.8 620.1 66.8 C620.87 64.8 621.97 62.53 622.9 61.3 C623.83 60.07 624.93 60.63 625.7 59.4 C626.47 58.17 626.8 55.73 627.5 53.9 C628.2 52.07 629.13 49.02 629.9 48.4 C630.67 47.78 631.42 49.5 632.1 50.2 C632.78 50.9 633.43 51.98 634 52.6 C634.57 53.22 635.1 55.98 635.5 53.9 C635.9 51.82 636.1 44.25 636.4 40.1 C636.7 35.95 637 31.22 637.3 29 C637.6 26.78 637.88 25.57 638.2 26.8 C638.52 28.03 638.88 34.5 639.2 36.4 C639.52 38.3 639.8 39.75 640.1 38.2 C640.4 36.65 640.6 30.95 641 27.1 C641.4 23.25 642.13 15.1 642.5 15.1 C642.87 15.1 642.93 22.33 643.2 27.1 C643.47 31.87 643.63 39.7 644.1 43.7 C644.57 47.7 645.38 48.32 646 51.1 C646.62 53.88 647.35 57.02 647.8 60.4 C648.25 63.78 648.3 68.18 648.7 71.4 C649.1 74.62 649.58 78.17 650.2 79.7 C650.82 81.23 651.78 78.9 652.4 80.6 C653.02 82.3 653.28 87.73 653.9 89.9 C654.52 92.07 655.47 93.03 656.1 93.6 C656.73 94.17 657.07 90.77 657.7 93.3 C658.33 95.83 659.15 104.37 659.9 108.8 C660.65 113.23 661.45 116.93 662.2 119.9 C662.95 122.87 663.67 123.65 664.4 126.6 C665.13 129.55 665.68 134.28 666.6 137.6 C667.52 140.92 668.8 143.53 669.9 146.5 C671 149.47 672.08 153 673.2 155.4 C674.32 157.8 675.48 159.42 676.6 160.9 C677.72 162.38 679.35 163.73 679.9 164.3" fill="none" stroke="#505050" stroke-width="0.8" stroke-linejoin="round"/>
<line x1="572.5" y1="221.5" x2="616.5" y2="88" stroke="#ff1a1a" stroke-width="1.3"/>
<g opacity="1"><line x1="532.3" y1="186.6" x2="532.3" y2="195.1" stroke="#ff00ff" stroke-width="0.8"/>
<path d="M532.3 185.1 l-1.3 2.6 l1.3 1.4 l1.3 -1.4z M532.3 196.6 l-1.3 -2.6 l1.3 -1.4 l1.3 1.4z" fill="#ff00ff"/></g>
<g opacity="1"><line x1="552.5" y1="165.4" x2="552.5" y2="174.4" stroke="#ff00ff" stroke-width="0.8"/>
<path d="M552.5 163.9 l-1.3 2.6 l1.3 1.4 l1.3 -1.4z M552.5 175.9 l-1.3 -2.6 l1.3 -1.4 l1.3 1.4z" fill="#ff00ff"/></g>
<g opacity="1"><line x1="591.3" y1="153.9" x2="591.3" y2="162" stroke="#ff00ff" stroke-width="0.8"/>
<path d="M591.3 152.4 l-1.3 2.6 l1.3 1.4 l1.3 -1.4z M591.3 163.5 l-1.3 -2.6 l1.3 -1.4 l1.3 1.4z" fill="#ff00ff"/></g>
<g opacity="1"><line x1="616.5" y1="76.2" x2="616.5" y2="83.8" stroke="#ff00ff" stroke-width="0.8"/>
<path d="M616.5 74.7 l-1.3 2.6 l1.3 1.4 l1.3 -1.4z M616.5 85.3 l-1.3 -2.6 l1.3 -1.4 l1.3 1.4z" fill="#ff00ff"/></g>
<text x="465.9" y="55.8" font-family="&quot;Liberation Serif&quot;, serif" font-weight="bold" font-size="12" fill="#111">MOF</text>
<text x="646.2" y="183.2" font-family="&quot;Liberation Serif&quot;, serif" font-size="11.5" fill="#222">3.68</text>
<text x="497.4" y="252.7" font-family="&quot;Liberation Serif&quot;, serif" font-size="11.5" fill="#222">photon energy (eV)</text>
<text transform="translate(376.8 108.7) rotate(-90)" text-anchor="middle" font-family="&quot;Liberation Serif&quot;, serif" font-size="11.5" fill="#222">(abs.hf)^2</text>
<line x1="53.8" y1="270.1" x2="53.8" y2="498.7" stroke="#222" stroke-width="1.1"/>
<line x1="53.3" y1="498.2" x2="331.6" y2="498.2" stroke="#222" stroke-width="1.1"/>
<line x1="49.8" y1="270.1" x2="53.8" y2="270.1" stroke="#222" stroke-width="1.1"/>
<text x="45.6" y="273.07" text-anchor="end" font-family="&quot;Liberation Serif&quot;, serif" font-size="9" fill="#222">100</text>
<line x1="49.8" y1="315.72" x2="53.8" y2="315.72" stroke="#222" stroke-width="1.1"/>
<text x="45.6" y="318.69" text-anchor="end" font-family="&quot;Liberation Serif&quot;, serif" font-size="9" fill="#222">80</text>
<line x1="49.8" y1="361.34" x2="53.8" y2="361.34" stroke="#222" stroke-width="1.1"/>
<text x="45.6" y="364.31" text-anchor="end" font-family="&quot;Liberation Serif&quot;, serif" font-size="9" fill="#222">60</text>
<line x1="49.8" y1="406.96" x2="53.8" y2="406.96" stroke="#222" stroke-width="1.1"/>
<text x="45.6" y="409.93" text-anchor="end" font-family="&quot;Liberation Serif&quot;, serif" font-size="9" fill="#222">40</text>
<line x1="49.8" y1="452.58" x2="53.8" y2="452.58" stroke="#222" stroke-width="1.1"/>
<text x="45.6" y="455.55" text-anchor="end" font-family="&quot;Liberation Serif&quot;, serif" font-size="9" fill="#222">20</text>
<line x1="49.8" y1="498.2" x2="53.8" y2="498.2" stroke="#222" stroke-width="1.1"/>
<text x="45.6" y="501.17" text-anchor="end" font-family="&quot;Liberation Serif&quot;, serif" font-size="9" fill="#222">0</text>
<line x1="51.6" y1="292.91" x2="53.8" y2="292.91" stroke="#222" stroke-width="1.1"/>
<line x1="51.6" y1="338.53" x2="53.8" y2="338.53" stroke="#222" stroke-width="1.1"/>
<line x1="51.6" y1="384.15" x2="53.8" y2="384.15" stroke="#222" stroke-width="1.1"/>
<line x1="51.6" y1="429.77" x2="53.8" y2="429.77" stroke="#222" stroke-width="1.1"/>
<line x1="51.6" y1="475.39" x2="53.8" y2="475.39" stroke="#222" stroke-width="1.1"/>
<line x1="78.6" y1="498.2" x2="78.6" y2="502.4" stroke="#222" stroke-width="1.1"/>
<text x="78.6" y="513.2" text-anchor="middle" font-family="&quot;Liberation Serif&quot;, serif" font-size="9.5" fill="#222">1</text>
<line x1="129.1" y1="498.2" x2="129.1" y2="502.4" stroke="#222" stroke-width="1.1"/>
<text x="129.1" y="513.2" text-anchor="middle" font-family="&quot;Liberation Serif&quot;, serif" font-size="9.5" fill="#222">2</text>
<line x1="179.6" y1="498.2" x2="179.6" y2="502.4" stroke="#222" stroke-width="1.1"/>
<text x="179.6" y="513.2" text-anchor="middle" font-family="&quot;Liberation Serif&quot;, serif" font-size="9.5" fill="#222">3</text>
<line x1="230.1" y1="498.2" x2="230.1" y2="502.4" stroke="#222" stroke-width="1.1"/>
<text x="230.1" y="513.2" text-anchor="middle" font-family="&quot;Liberation Serif&quot;, serif" font-size="9.5" fill="#222">4</text>
<line x1="280.6" y1="498.2" x2="280.6" y2="502.4" stroke="#222" stroke-width="1.1"/>
<text x="280.6" y="513.2" text-anchor="middle" font-family="&quot;Liberation Serif&quot;, serif" font-size="9.5" fill="#222">5</text>
<line x1="331.1" y1="498.2" x2="331.1" y2="502.4" stroke="#222" stroke-width="1.1"/>
<text x="331.1" y="513.2" text-anchor="middle" font-family="&quot;Liberation Serif&quot;, serif" font-size="9.5" fill="#222">6</text>
<line x1="103.85" y1="498.2" x2="103.85" y2="500.2" stroke="#222" stroke-width="1.1"/>
<line x1="154.35" y1="498.2" x2="154.35" y2="500.2" stroke="#222" stroke-width="1.1"/>
<line x1="204.85" y1="498.2" x2="204.85" y2="500.2" stroke="#222" stroke-width="1.1"/>
<line x1="255.35" y1="498.2" x2="255.35" y2="500.2" stroke="#222" stroke-width="1.1"/>
<line x1="305.85" y1="498.2" x2="305.85" y2="500.2" stroke="#222" stroke-width="1.1"/>
<path d="M85.5 489 C85.5 490.43 85.17 496.07 85.5 497.6 C85.83 499.13 79.5 498.1 87.5 498.2 C95.5 498.3 124.42 498.45 133.5 498.2 C142.58 497.95 139.25 497.28 142 496.7 C144.75 496.12 146.47 495.68 150 494.7 C153.53 493.72 159.03 492.02 163.2 490.8 C167.37 489.58 171.87 488.35 175 487.4 C178.13 486.45 179.17 485.98 182 485.1 C184.83 484.22 188.18 483.12 192 482.1 C195.82 481.08 201.22 480.13 204.9 479 C208.58 477.87 211.33 476.93 214.1 475.3 C216.87 473.67 219.03 471.6 221.5 469.2 C223.97 466.8 226.57 464.53 228.9 460.9 C231.23 457.27 233.3 453.72 235.5 447.4 C237.7 441.08 240.25 430.02 242.1 423 C243.95 415.98 245.12 412.67 246.6 405.3 C248.08 397.93 250.08 385.07 251 378.8 C251.92 372.53 251.73 372.13 252.1 367.7 C252.47 363.27 252.83 357.22 253.2 352.2 C253.57 347.18 253.93 341.32 254.3 337.6 C254.67 333.88 255.03 331.55 255.4 329.9 C255.77 328.25 256.13 329.92 256.5 327.7 C256.87 325.48 257.18 318.45 257.6 316.6 C258.02 314.75 258.63 315.3 259 316.6 C259.37 317.9 259.47 321.82 259.8 324.4 C260.13 326.98 260.7 331 261 332.1 C261.3 333.2 261.35 329.72 261.6 331 C261.85 332.28 262.13 338.52 262.5 339.8 C262.87 341.08 263.4 337.95 263.8 338.7 C264.2 339.45 264.57 340.42 264.9 344.3 C265.23 348.18 265.42 357.2 265.8 362 C266.18 366.8 266.72 369.6 267.2 373.1 C267.68 376.6 268.08 380.62 268.7 383 C269.32 385.38 270.17 385.37 270.9 387.4 C271.63 389.43 272.5 393.1 273.1 395.2 C273.7 397.3 273.98 397.97 274.5 400 C275.02 402.03 275.55 405.18 276.2 407.4 C276.85 409.62 277.65 411.33 278.4 413.3 C279.15 415.27 279.95 416.98 280.7 419.2 C281.45 421.42 282.28 424.75 282.9 426.6 C283.52 428.45 283.98 429.82 284.4 430.3 C284.82 430.78 284.92 429.02 285.4 429.5 C285.88 429.98 286.62 433.2 287.3 433.2 C287.98 433.2 288.88 429.98 289.5 429.5 C290.12 429.02 290.02 428.82 291 430.3 C291.98 431.78 293.93 434.97 295.4 438.4 C296.87 441.83 298.08 447.47 299.8 450.9 C301.52 454.33 303.72 456.78 305.7 459 C307.68 461.22 309.97 462.72 311.7 464.2 C313.43 465.68 314.63 466.75 316.1 467.9 C317.57 469.05 319.03 470.32 320.5 471.1 C321.97 471.88 323.67 473.27 324.9 472.6 C326.13 471.93 327.1 467.63 327.9 467.1 C328.7 466.57 329.22 473.33 329.7 469.4 C330.18 465.47 330.62 447.82 330.8 443.5" fill="none" stroke="#505050" stroke-width="0.8" stroke-linejoin="round"/>
<line x1="223.4" y1="498.2" x2="253.2" y2="375.5" stroke="#ff1a1a" stroke-width="1.3"/>
<g opacity="0.55"><line x1="229.6" y1="457.3" x2="229.6" y2="465.8" stroke="#ff00ff" stroke-width="0.8"/>
<path d="M229.6 455.8 l-1.3 2.6 l1.3 1.4 l1.3 -1.4z M229.6 467.3 l-1.3 -2.6 l1.3 -1.4 l1.3 1.4z" fill="#ff00ff"/></g>
<g opacity="0.55"><line x1="252.8" y1="358.1" x2="252.8" y2="366.2" stroke="#ff00ff" stroke-width="0.8"/>
<path d="M252.8 356.6 l-1.3 2.6 l1.3 1.4 l1.3 -1.4z M252.8 367.7 l-1.3 -2.6 l1.3 -1.4 l1.3 1.4z" fill="#ff00ff"/></g>
<text x="112.8" y="330.6" font-family="&quot;Liberation Serif&quot;, serif" font-weight="bold" font-size="12" fill="#111">BiOI</text>
<text x="237.9" y="478.8" font-family="&quot;Liberation Serif&quot;, serif" font-size="11.5" fill="#222">3.86</text>
<text x="147" y="531.6" font-family="&quot;Liberation Serif&quot;, serif" font-size="11.5" fill="#222">photon energy (eV)</text>
<text transform="translate(20.4 378.7) rotate(-90)" text-anchor="middle" font-family="&quot;Liberation Sans&quot;, sans-serif" font-size="11.7" fill="#222">(abs.hf)^2</text>
<line x1="404.3" y1="275.55" x2="404.3" y2="504" stroke="#222" stroke-width="1.1"/>
<line x1="403.8" y1="503.5" x2="682.8" y2="503.5" stroke="#222" stroke-width="1.1"/>
<line x1="400.3" y1="275.55" x2="404.3" y2="275.55" stroke="#222" stroke-width="1.1"/>
<text x="397.8" y="278.85" text-anchor="end" font-family="&quot;Liberation Serif&quot;, serif" font-size="10" fill="#222">50</text>
<line x1="400.3" y1="316.9" x2="404.3" y2="316.9" stroke="#222" stroke-width="1.1"/>
<text x="397.8" y="320.2" text-anchor="end" font-family="&quot;Liberation Serif&quot;, serif" font-size="10" fill="#222">40</text>
<line x1="400.3" y1="358.25" x2="404.3" y2="358.25" stroke="#222" stroke-width="1.1"/>
<text x="397.8" y="361.55" text-anchor="end" font-family="&quot;Liberation Serif&quot;, serif" font-size="10" fill="#222">30</text>
<line x1="400.3" y1="399.6" x2="404.3" y2="399.6" stroke="#222" stroke-width="1.1"/>
<text x="397.8" y="402.9" text-anchor="end" font-family="&quot;Liberation Serif&quot;, serif" font-size="10" fill="#222">20</text>
<line x1="400.3" y1="440.95" x2="404.3" y2="440.95" stroke="#222" stroke-width="1.1"/>
<text x="397.8" y="444.25" text-anchor="end" font-family="&quot;Liberation Serif&quot;, serif" font-size="10" fill="#222">10</text>
<line x1="400.3" y1="482.3" x2="404.3" y2="482.3" stroke="#222" stroke-width="1.1"/>
<text x="397.8" y="485.6" text-anchor="end" font-family="&quot;Liberation Serif&quot;, serif" font-size="10" fill="#222">0</text>
<line x1="402.1" y1="296.23" x2="404.3" y2="296.23" stroke="#222" stroke-width="1.1"/>
<line x1="402.1" y1="337.58" x2="404.3" y2="337.58" stroke="#222" stroke-width="1.1"/>
<line x1="402.1" y1="378.93" x2="404.3" y2="378.93" stroke="#222" stroke-width="1.1"/>
<line x1="402.1" y1="420.28" x2="404.3" y2="420.28" stroke="#222" stroke-width="1.1"/>
<line x1="402.1" y1="461.62" x2="404.3" y2="461.62" stroke="#222" stroke-width="1.1"/>
<line x1="402.1" y1="502.98" x2="404.3" y2="502.98" stroke="#222" stroke-width="1.1"/>
<line x1="438.7" y1="503.5" x2="438.7" y2="507.7" stroke="#222" stroke-width="1.1"/>
<text x="438.7" y="518.6" text-anchor="middle" font-family="&quot;Liberation Serif&quot;, serif" font-size="10" fill="#222">2</text>
<line x1="508.3" y1="503.5" x2="508.3" y2="507.7" stroke="#222" stroke-width="1.1"/>
<text x="508.3" y="518.6" text-anchor="middle" font-family="&quot;Liberation Serif&quot;, serif" font-size="10" fill="#222">3</text>
<line x1="577.9" y1="503.5" x2="577.9" y2="507.7" stroke="#222" stroke-width="1.1"/>
<text x="577.9" y="518.6" text-anchor="middle" font-family="&quot;Liberation Serif&quot;, serif" font-size="10" fill="#222">4</text>
<line x1="647.5" y1="503.5" x2="647.5" y2="507.7" stroke="#222" stroke-width="1.1"/>
<text x="647.5" y="518.6" text-anchor="middle" font-family="&quot;Liberation Serif&quot;, serif" font-size="10" fill="#222">5</text>
<line x1="473.5" y1="503.5" x2="473.5" y2="505.5" stroke="#222" stroke-width="1.1"/>
<line x1="543.1" y1="503.5" x2="543.1" y2="505.5" stroke="#222" stroke-width="1.1"/>
<line x1="612.7" y1="503.5" x2="612.7" y2="505.5" stroke="#222" stroke-width="1.1"/>
<line x1="682.3" y1="503.5" x2="682.3" y2="505.5" stroke="#222" stroke-width="1.1"/>
<path d="M404.5 482.3 C408.62 482.25 423.38 482.18 429.2 482 C435.02 481.82 436.48 481.68 439.4 481.2 C442.32 480.72 443.53 480.25 446.7 479.1 C449.87 477.95 454.5 476.15 458.4 474.3 C462.3 472.45 466.2 470.12 470.1 468 C474 465.88 478.4 463.23 481.8 461.6 C485.2 459.97 487.45 459.37 490.5 458.2 C493.55 457.03 496.55 455.73 500.1 454.6 C503.65 453.47 507.92 452.52 511.8 451.4 C515.68 450.28 519.52 449.07 523.4 447.9 C527.28 446.73 531.2 445.77 535.1 444.4 C539 443.03 542.9 441.65 546.8 439.7 C550.7 437.75 555 435.23 558.5 432.7 C562 430.17 565.08 427.22 567.8 424.5 C570.52 421.78 572.85 418.93 574.8 416.4 C576.75 413.87 577.72 413.08 579.5 409.3 C581.28 405.52 582.78 401.47 585.5 393.7 C588.22 385.93 592.57 372.18 595.8 362.7 C599.03 353.22 602.32 343.27 604.9 336.8 C607.48 330.33 609.8 327.77 611.3 323.9 C612.8 320.03 613.25 317.47 613.9 313.6 C614.55 309.73 614.55 303.28 615.2 300.7 C615.85 298.12 617.07 298.62 617.8 298.1 C618.53 297.58 618.95 296.1 619.6 297.6 C620.25 299.1 621.05 306.8 621.7 307.1 C622.35 307.4 622.95 301.42 623.5 299.4 C624.05 297.38 624.23 295 625 295 C625.77 295 627.27 297.6 628.1 299.4 C628.93 301.2 629.43 302.37 630 305.8 C630.57 309.23 630.82 317.2 631.5 320 C632.18 322.8 633.23 319.58 634.1 322.6 C634.97 325.62 635.75 334.22 636.7 338.1 C637.65 341.98 638.85 343.32 639.8 345.9 C640.75 348.48 641.55 353.6 642.4 353.6 C643.25 353.6 644.05 346.1 644.9 345.9 C645.75 345.7 646.85 350.03 647.5 352.4 C648.15 354.77 647.93 357.73 648.8 360.1 C649.67 362.47 651.62 365.1 652.7 366.6 C653.78 368.1 654.47 366.87 655.3 369.1 C656.13 371.33 656.92 377.45 657.7 380 C658.48 382.55 659.35 382.55 660 384.4 C660.65 386.25 660.97 389.25 661.6 391.1 C662.23 392.95 662.87 394.4 663.8 395.5 C664.73 396.6 666.37 396.4 667.2 397.7 C668.03 399 668.17 401.45 668.8 403.3 C669.43 405.15 670.25 407.13 671 408.8 C671.75 410.47 672.47 411.53 673.3 413.3 C674.13 415.07 675.18 417.93 676 419.4 C676.82 420.87 677.27 421.28 678.2 422.1 C679.13 422.92 681.03 423.93 681.6 424.3" fill="none" stroke="#505050" stroke-width="0.8" stroke-linejoin="round"/>
<line x1="543.5" y1="503.5" x2="604.4" y2="340" stroke="#ff1a1a" stroke-width="1.3"/>
<g opacity="1"><line x1="574.8" y1="412" x2="574.8" y2="420.7" stroke="#ff00ff" stroke-width="0.8"/>
<path d="M574.8 410.5 l-1.3 2.6 l1.3 1.4 l1.3 -1.4z M574.8 422.2 l-1.3 -2.6 l1.3 -1.4 l1.3 1.4z" fill="#ff00ff"/></g>
<g opacity="1"><line x1="604.4" y1="331.1" x2="604.4" y2="340" stroke="#ff00ff" stroke-width="0.8"/>
<path d="M604.4 329.6 l-1.3 2.6 l1.3 1.4 l1.3 -1.4z M604.4 341.5 l-1.3 -2.6 l1.3 -1.4 l1.3 1.4z" fill="#ff00ff"/></g>
<text x="451.3" y="312.6" font-family="&quot;Liberation Serif&quot;, serif" font-weight="bold" font-size="12" fill="#111">BiOI</text>
<text x="591" y="445.8" font-family="&quot;Liberation Serif&quot;, serif" font-size="11.5" fill="#222">3.62</text>
<text x="497.8" y="536.4" font-family="&quot;Liberation Serif&quot;, serif" font-size="11.5" fill="#222">photon energy (eV)</text>
<text transform="translate(376.8 384.8) rotate(-90)" text-anchor="middle" font-family="&quot;Liberation Serif&quot;, serif" font-size="11.6" fill="#222">(abs.hf)^2</text>
</svg>
</body></html>
